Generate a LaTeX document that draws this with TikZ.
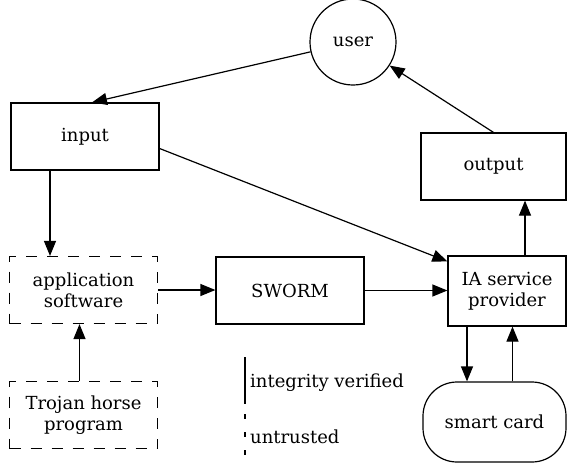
\documentclass[tikz,border=0pt]{standalone}
\usepackage{fontspec}
\setmainfont{DejaVu Serif}
\usepackage{tikz}
\usetikzlibrary{arrows.meta,positioning}

\begin{document}
\begin{tikzpicture}[
  x=1pt, y=-1pt,
  box/.style={draw, line width=1.2pt, align=center, font=\fontsize{18}{21}\selectfont,
              minimum width=148pt, minimum height=67pt, inner sep=2pt},
  dbox/.style={box, dash pattern=on 11pt off 10pt},
  arr/.style={-{Triangle[length=15pt,width=12pt]}, line width=1.2pt},
  lbl/.style={font=\fontsize{18}{21}\selectfont, inner sep=2pt, anchor=west},
]
\useasboundingbox (0,0) rectangle (567,464);
\node[draw, circle, line width=1.2pt, minimum size=86pt, inner sep=0pt,
      font=\fontsize{18}{21}\selectfont] (user) at (353,42) {user};
\node[box] (input) at (85,136.5) {input};
\node[box, minimum width=145pt] (output) at (493.5,166.5) {output};
\node[dbox] (appsw) at (83.5,290) {application\\software};
\node[box] (sworm) at (290,290.5) {SWORM};
\node[box, minimum width=118pt, minimum height=70pt] (iasp) at (507,291) {IA service\\provider};
\node[dbox] (trojan) at (83.5,415) {Trojan horse\\program};
\node[box, minimum width=143pt, minimum height=80pt, rounded corners=34pt] (card) at (494.5,422) {smart card};

% legend
\coordinate (lgtop) at (245,357);
\coordinate (lgmid) at (245,404);
\coordinate (lgbot) at (245,462);
\draw[line width=1.2pt] (lgtop) -- (lgmid);
\draw[line width=1.2pt, dash pattern=on 5pt off 13pt] ([yshift=-10pt]lgmid) -- (lgbot);
\node[lbl] (trusted) at (248,383) {integrity verified};
\node[lbl] (untrusted) at (248,437) {untrusted};

% flows
\draw[arr] (user) -- ([xshift=7pt]input.north);
\draw[arr] (output.north) -- (user);
\draw[arr] ([yshift=-12pt]input.east) -- ([yshift=-6pt]iasp.north west);
\draw[arr] ([xshift=-35pt]input.south) -- ([xshift=-35pt]input.south |- appsw.north);
\draw[arr] ([xshift=-4pt]trojan.north) -- ([xshift=-4pt]appsw.south);
\draw[arr] (appsw.east) -- (appsw.east -| sworm.west);
\draw[arr] (sworm.east) -- (sworm.east -| iasp.west);
\draw[arr] ([xshift=18pt]iasp.north) -- ([xshift=18pt]iasp.north |- output.south);
\draw[arr] ([xshift=-40pt]iasp.south) -- ([xshift=-40pt]iasp.south |- card.north);
\draw[arr] ([xshift=18pt]card.north) -- ([xshift=18pt]card.north |- iasp.south);
\end{tikzpicture}
\end{document}
